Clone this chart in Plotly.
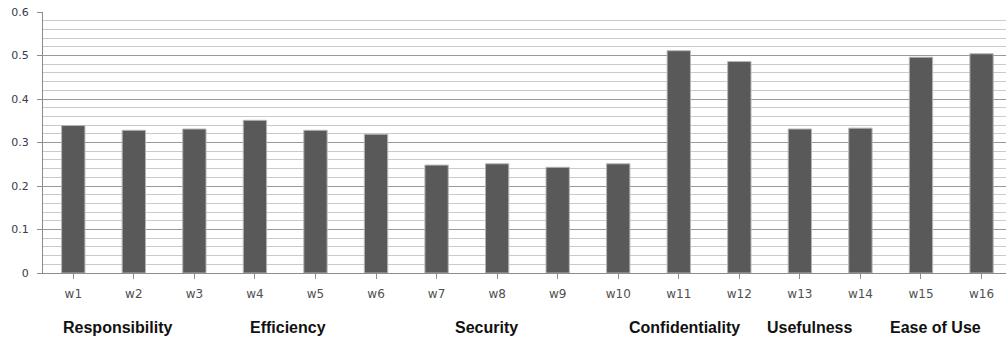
import plotly.graph_objects as go

# Item weights
items = ["w1", "w2", "w3", "w4", "w5", "w6", "w7", "w8",
         "w9", "w10", "w11", "w12", "w13", "w14", "w15", "w16"]
weights = [0.339, 0.328, 0.331, 0.351, 0.328, 0.319, 0.248, 0.251,
           0.243, 0.251, 0.511, 0.486, 0.331, 0.333, 0.496, 0.504]

# Dimension names shown beneath the item labels
groups = ["Responsibility", "Efficiency", "Security",
          "Confidentiality", "Usefulness", "Ease of Use"]
group_pos = [0.735, 3.54, 6.82, 10.09, 12.16, 14.24]

y_ticks = [0, 0.1, 0.2, 0.3, 0.4, 0.5, 0.6]

H = 338
plot_top, plot_bot = 12.3, 273.3

fig = go.Figure()
fig.add_trace(go.Bar(
    x=list(range(len(items))),
    y=weights,
    width=0.385,
    marker=dict(color="#595959", line=dict(color="#b4b4b4", width=1)),
    hoverinfo="x+y",
))

# group captions sit ~55px under the plot's bottom edge
for name, pos in zip(groups, group_pos):
    fig.add_annotation(
        x=pos, xref="x",
        y=(plot_bot - 328) / (plot_bot - plot_top), yref="paper",
        yanchor="middle",
        text=name, showarrow=False,
        font=dict(family="Liberation Sans, Arial", size=16, color="#111111",
                  weight="bold"),
    )

fig.update_layout(
    width=1006, height=H,
    margin=dict(l=43, r=0, t=plot_top, b=H - plot_bot, pad=0),
    paper_bgcolor="white", plot_bgcolor="white",
    showlegend=False,
    font=dict(family="DejaVu Sans", size=11, color="#404040"),
    xaxis=dict(
        tickmode="array",
        tickvals=list(range(len(items))),
        ticktext=items,
        range=[-0.5, 15.404],
        showline=True, linecolor="#8c8c8c", linewidth=1,
        ticks="outside", ticklen=5, tickcolor="#8c8c8c",
        tickson="boundaries",
        showgrid=False, zeroline=False,
        tickfont=dict(family="DejaVu Sans", size=12, color="#505050"),
        ticklabelstandoff=5,
    ),
    yaxis=dict(
        range=[0, 0.6],
        tickmode="array", tickvals=y_ticks,
        ticktext=["0", "0.1", "0.2", "0.3", "0.4", "0.5", "0.6"],
        showline=True, linecolor="#8c8c8c", linewidth=1,
        ticks="outside", ticklen=5, tickcolor="#8c8c8c",
        showgrid=True, gridcolor="#999999", gridwidth=1,
        zeroline=False,
        minor=dict(dtick=0.02, tick0=0, showgrid=True, gridcolor="#cacaca",
                   gridwidth=1, ticks=""),
        tickfont=dict(family="DejaVu Sans", size=11, color="#3a3a4a"),
        ticklabelstandoff=6,
    ),
)

fig.write_html("out.html")
